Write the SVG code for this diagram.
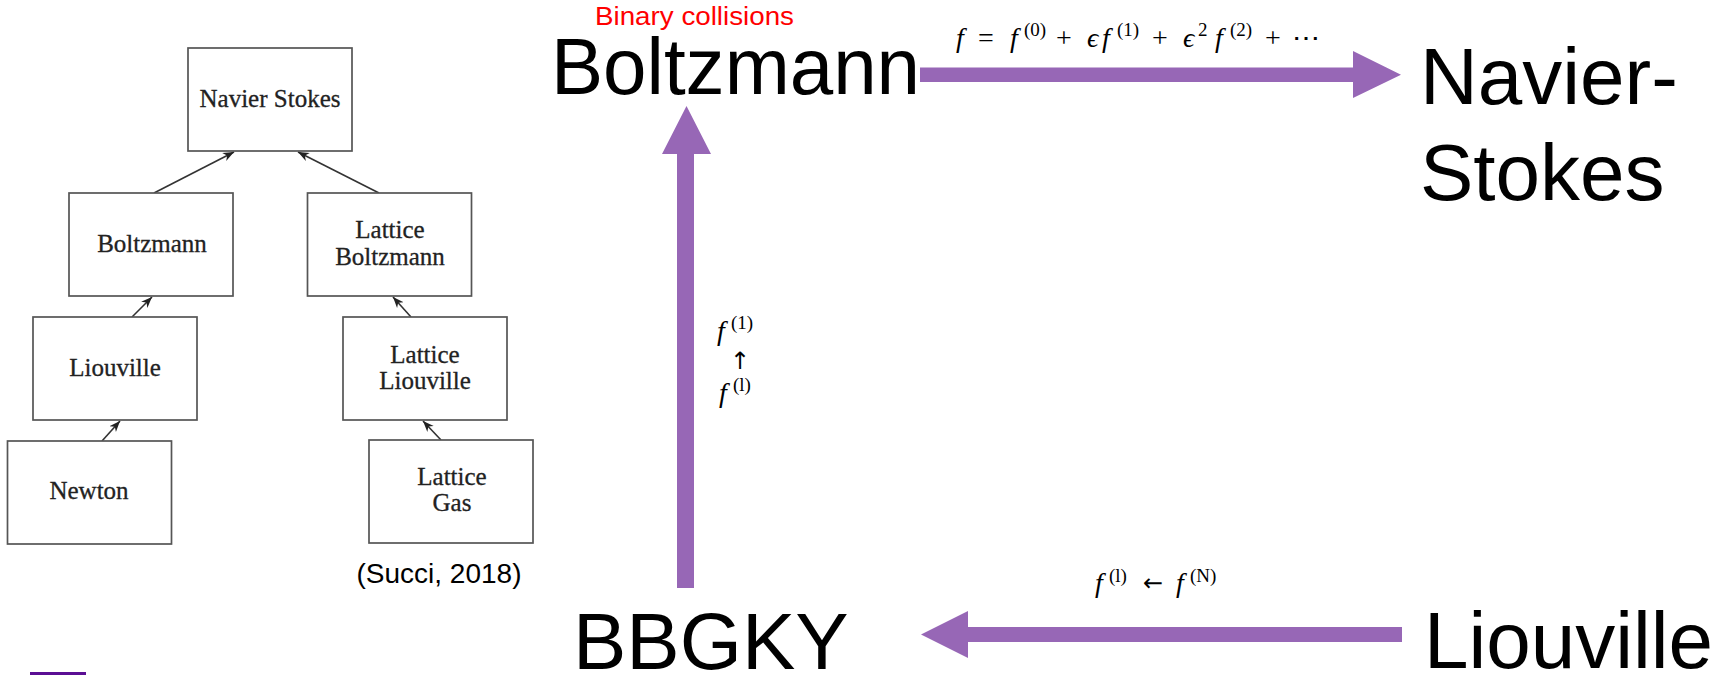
<svg xmlns="http://www.w3.org/2000/svg" width="1721" height="675" viewBox="0 0 1721 675">
<defs>
<style>
.box{fill:#fff;stroke:#555;stroke-width:1.7}
.bt{font-family:"Liberation Serif","DejaVu Serif",serif;font-size:25px;fill:#222;stroke:#222;stroke-width:0.3;text-anchor:middle}
.ln{stroke:#333;stroke-width:1.6;fill:none;marker-end:url(#ah)}
.big{font-family:"Liberation Sans",Arial,sans-serif;font-size:80px;fill:#000}
.m{font-family:"Liberation Serif","DejaVu Serif",serif;font-size:28px;fill:#000}
.mi{font-style:italic}
.sup{font-size:19px}
.ar{font-family:"DejaVu Sans",sans-serif;font-size:24px}
.purple{fill:#9767B6}
</style>
<marker id="ah" viewBox="0 0 10 10" refX="10" refY="5" markerWidth="11" markerHeight="11" orient="auto" markerUnits="userSpaceOnUse">
<path d="M0,1 L10,5 L0,9 L3,5 z" fill="#222"/>
</marker>
</defs>
<rect width="1721" height="675" fill="#fff"/>

<g id="connectors">
<line class="ln" x1="154" y1="193" x2="234" y2="152"/>
<line class="ln" x1="379" y1="193" x2="298" y2="152"/>
<line class="ln" x1="132" y1="317" x2="152" y2="297"/>
<line class="ln" x1="411" y1="317" x2="393" y2="297"/>
<line class="ln" x1="102" y1="441" x2="120" y2="421"/>
<line class="ln" x1="441" y1="440" x2="423" y2="421"/>
<path class="purple" d="M920,67.5 H1353 V51 L1401,74.75 L1353,98 V82 H920 Z"/>
<path class="purple" d="M677,588 V154 H662 L686.5,106 L711,154 H694 V588 Z"/>
<path class="purple" d="M1402,627 H968 V611 L921,634.5 L968,658 V642 H1402 Z"/>
</g>

<g id="node-ns-left">
<rect class="box" x="188" y="48" width="164" height="103"/>
<text class="bt" x="270" y="107">Navier Stokes</text>
</g>
<g id="node-boltzmann-left">
<rect class="box" x="69" y="193" width="164" height="103"/>
<text class="bt" x="152" y="252">Boltzmann</text>
</g>
<g id="node-lb-left">
<rect class="box" x="307.5" y="193" width="164" height="103"/>
<text class="bt" x="390" y="238">Lattice</text>
<text class="bt" x="390" y="265">Boltzmann</text>
</g>
<g id="node-liouville-left">
<rect class="box" x="33" y="317" width="164" height="103"/>
<text class="bt" x="115" y="376">Liouville</text>
</g>
<g id="node-ll-left">
<rect class="box" x="343" y="317" width="164" height="103"/>
<text class="bt" x="425" y="363">Lattice</text>
<text class="bt" x="425" y="389">Liouville</text>
</g>
<g id="node-newton-left">
<rect class="box" x="7.5" y="441" width="164" height="103"/>
<text class="bt" x="89" y="499">Newton</text>
</g>
<g id="node-lg-left">
<rect class="box" x="369" y="440" width="164" height="103"/>
<text class="bt" x="452" y="485">Lattice</text>
<text class="bt" x="452" y="511">Gas</text>
</g>
<g id="citation">
<text x="439" y="583" font-family="Liberation Sans,Arial,sans-serif" font-size="28" text-anchor="middle" fill="#000">(Succi, 2018)</text>
</g>
<rect x="30" y="672" width="56" height="3" fill="#5B0F94"/>

<g id="node-boltzmann">
<text x="595" y="25" font-family="Liberation Sans,Arial,sans-serif" font-size="25" fill="#FF0000" textLength="199" lengthAdjust="spacingAndGlyphs">Binary collisions</text>
<text class="big" x="551" y="94" textLength="369" lengthAdjust="spacingAndGlyphs">Boltzmann</text>
</g>
<g id="node-navier-stokes">
<text class="big" x="1420" y="104">Navier-</text>
<text class="big" x="1420" y="200">Stokes</text>
</g>
<g id="node-bbgky">
<text class="big" x="573" y="669">BBGKY</text>
</g>
<g id="node-liouville">
<text class="big" x="1424" y="668">Liouville</text>
</g>

<g id="labels">
<text class="m"><tspan class="mi" x="956" y="47">f</tspan><tspan x="978" y="47">=</tspan><tspan class="mi" x="1010" y="47">f</tspan><tspan class="sup" x="1024" y="36">(0)</tspan><tspan x="1056" y="47">+</tspan><tspan class="mi" x="1087" y="47">ϵ</tspan><tspan class="mi" x="1102" y="47">f</tspan><tspan class="sup" x="1117" y="36">(1)</tspan><tspan x="1152" y="47">+</tspan><tspan class="mi" x="1183" y="47">ϵ</tspan><tspan class="sup" x="1198" y="36">2</tspan><tspan class="mi" x="1215" y="47">f</tspan><tspan class="sup" x="1230" y="36">(2)</tspan><tspan x="1265" y="47">+</tspan><tspan x="1292" y="47">⋯</tspan></text>
<text class="m"><tspan class="mi" x="717" y="340">f</tspan><tspan class="sup" x="731" y="329">(1)</tspan></text>
<text class="m ar" x="740" y="369" text-anchor="middle">↑</text>
<text class="m"><tspan class="mi" x="719" y="402">f</tspan><tspan class="sup" x="733" y="391">(l)</tspan></text>
<text class="m"><tspan class="mi" x="1095" y="592">f</tspan><tspan class="sup" x="1109" y="582">(l)</tspan><tspan class="ar" x="1143" y="591">←</tspan><tspan class="mi" x="1176" y="592">f</tspan><tspan class="sup" x="1190" y="582">(N)</tspan></text>
</g>
</svg>
